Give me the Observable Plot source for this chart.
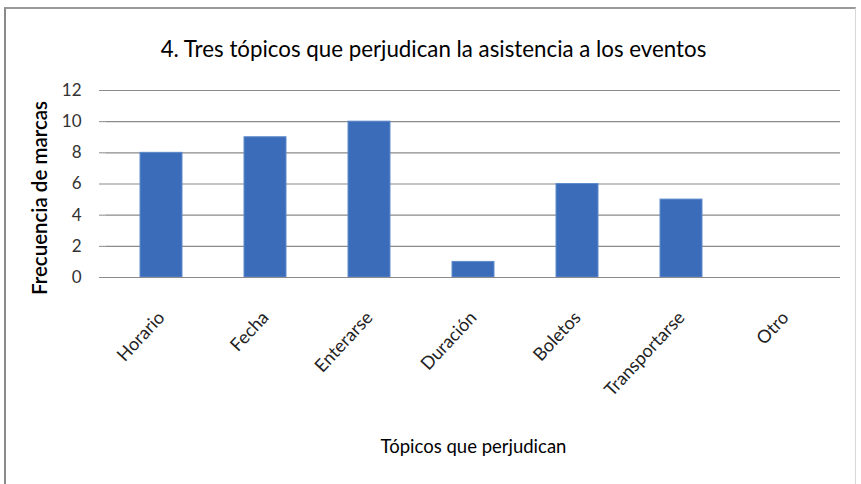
<!DOCTYPE html>
<html>
<head>
<meta charset="utf-8">
<script src="https://cdn.jsdelivr.net/npm/d3@7"></script>
<script src="https://cdn.jsdelivr.net/npm/@observablehq/plot@0.6"></script>
<style>
  html, body { margin: 0; padding: 0; background: #fff; }
  #chart { position: relative; width: 861px; height: 484px; overflow: hidden; }
  #chart svg { position: absolute; left: 0; top: 0; }
  #border {
    position: absolute; left: 4px; top: 7px; width: 852px; height: 490px;
    border-left: 2px solid #8a8a8a; border-top: 2px solid #9a9a9a;
    border-right: 1px solid #d8d8d8; box-sizing: border-box;
  }
</style>
</head>
<body>
<div id="chart"><div id="border"></div></div>
<script>
// Topics that hurt attendance, and how many times each was marked
const topicos = ["Horario", "Fecha", "Enterarse", "Duración", "Boletos", "Transportarse", "Otro"];
const frecuencias = [8, 9, 10, 1, 6, 5, 0];
const yTicks = [0, 2, 4, 6, 8, 10, 12];

const titulo = "4. Tres tópicos que perjudican la asistencia a los eventos";
const tituloX = "Tópicos que perjudican";
const tituloY = "Frecuencia de marcas";

const data = topicos.map((t, i) => ({topico: t, valor: frecuencias[i]}));
const font = "Lato, 'Open Sans', sans-serif";

const chart = Plot.plot({
  width: 861,
  height: 484,
  marginLeft: 106,
  marginRight: 21,
  marginTop: 90,
  marginBottom: 207,
  style: {fontFamily: font, background: "transparent"},
  x: {domain: topicos, paddingInner: 0.6, paddingOuter: 0.3, label: null},
  y: {domain: [0, 12], label: null},
  marks: [
    Plot.gridY(yTicks, {stroke: "#8a8a8a", strokeOpacity: 1, strokeWidth: 1.2}),
    Plot.axisY(yTicks, {
      tickSize: 7, tickPadding: 18, fontSize: 17, fill: "#333", stroke: "#8a8a8a",
      line: true, label: null
    }),
    Plot.axisX({
      tickSize: 0, tickPadding: 37, tickRotate: -47, fontSize: 18, fill: "#222", label: null
    }),
    Plot.barY(data, {
      x: "topico", y: "valor", fill: "#3b6cba", stroke: "#5f8bcc", strokeWidth: 1
    }),
    Plot.ruleY([0], {stroke: "#8a8a8a", strokeWidth: 1.2}),
    Plot.text([titulo], {
      frameAnchor: "top", dx: -40, dy: -49, fontSize: 22.3, fill: "#000"
    }),
    Plot.text([tituloX], {
      frameAnchor: "bottom", dx: 0, dy: 175, fontSize: 18.5, fill: "#000"
    }),
    Plot.text([tituloY], {
      frameAnchor: "left", textAnchor: "middle", dx: -66, dy: 14, rotate: -90,
      fontSize: 20.5, fontWeight: 600, fill: "#000"
    })
  ]
});

document.getElementById("chart").appendChild(chart);
</script>
</body>
</html>
